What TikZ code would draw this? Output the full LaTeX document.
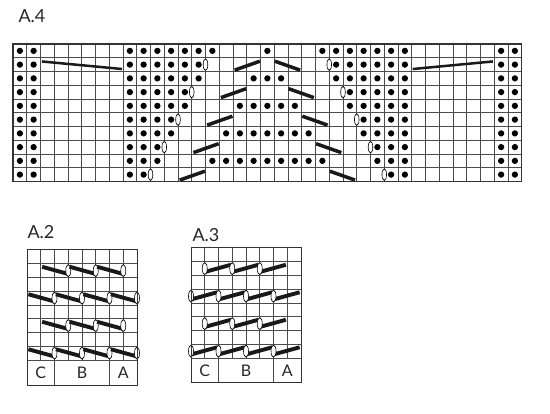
\documentclass[tikz,border=0pt]{standalone}
\usepackage{fontspec}
\setmainfont{Lato}
\begin{document}
\begin{tikzpicture}[x=1pt,y=-1pt,
  gridline/.style={draw=black!70, line width=0.7pt},
  border/.style={draw=black!80, line width=1.3pt},
  stitchdot/.style={fill=black},
  cross/.style={line width=3.5pt, draw=black!90},
  longcross/.style={line width=2.5pt, draw=black!90},
  crosskey/.style={line width=3.9pt, draw=black!90},
  oval/.style={draw=black, fill=white, line width=0.6pt},
  title/.style={font=\fontsize{18}{18}\selectfont, inner sep=0pt, text=black!85},
  keylabel/.style={font=\fontsize{16}{16}\selectfont, inner sep=0pt, text=black!85}]
\useasboundingbox (0,0) rectangle (550,414);

% ---------------- A.4 ----------------
\node[title] (t4) at (32,16.5) {A.4};
\begin{scope}[shift={(13,44)}, x=13.75pt, y=-13.75pt]
  \foreach \i in {1,...,36} \draw[gridline] (\i,0) -- (\i,10);
  \foreach \j in {1,...,9} \draw[gridline] (0,\j) -- (37,\j);
  \foreach \r/\cl in {
    1/{1,2,9,10,11,12,13,14,15,19,23,24,25,26,27,28,29,36,37},
    2/{1,2,9,10,11,12,13,14,24,25,26,27,28,29,36,37},
    3/{1,2,9,10,11,12,13,14,18,19,20,24,25,26,27,28,29,36,37},
    4/{1,2,9,10,11,12,13,25,26,27,28,29,36,37},
    5/{1,2,9,10,11,12,13,17,18,19,20,21,25,26,27,28,29,36,37},
    6/{1,2,9,10,11,12,26,27,28,29,36,37},
    7/{1,2,9,10,11,12,16,17,18,19,20,21,22,26,27,28,29,36,37},
    8/{1,2,9,10,11,27,28,29,36,37},
    9/{1,2,9,10,11,15,16,17,18,19,20,21,22,23,27,28,29,36,37},
    10/{1,2,9,10,28,29,36,37}}
  {
    \foreach \c in \cl { \fill[stitchdot] (\c-0.5,\r-0.5) circle (3.15pt); }
  }
  % long cables in row 2
  \draw[longcross] (2.1,1.27) -- (7.93,1.82);
  \draw[longcross] (29.07,1.82) -- (34.9,1.27);
  % short rising (left) and falling (right) strokes
  \foreach \r/\a in {2/16,4/15,6/14,8/13,10/12}
    \draw[cross] (\a+0.12,\r-0.1) -- (\a+1.96,\r-0.75);
  \foreach \r/\a in {2/19,4/20,6/21,8/22,10/23}
    \draw[cross] (\a+0.04,\r-0.75) -- (\a+1.88,\r-0.1);
  % ovals on column borders
  \foreach \b/\r in {14/2,23/2,13/4,24/4,12/6,25/6,11/8,26/8,10/10,27/10}
    \draw[oval] (\b,\r-0.5) ellipse [x radius=2.3pt, y radius=5.8pt];
  \draw[border] (0,0) rectangle (37,10);
\end{scope}

% ---------------- A.2 ----------------
\node[title] (t2) at (41,232) {A.2};
\begin{scope}[shift={(27,250)}, x=13.75pt, y=-13.75pt]
  \foreach \i in {1,...,7} \draw[gridline] (\i,0) -- (\i,8);
  \foreach \j in {1,...,8} \draw[gridline] (0,\j) -- (8,\j);
  \draw[gridline] (2,8) -- (2,9.85);
  \draw[gridline] (6,8) -- (6,9.85);
  \foreach \r in {2,6} \foreach \a in {1,3,5} {
    \draw[crosskey] (\a+0.1,\r-0.78) -- (\a+1.95,\r-0.27);
    \draw[oval] (\a+2,\r-0.5) ellipse [x radius=2.5pt, y radius=6pt];
  }
  \foreach \r in {4,8} \foreach \a in {0,2,4,6} {
    \draw[crosskey] (\a+0.1,\r-0.78) -- (\a+1.95,\r-0.27);
    \draw[oval] (\a+2,\r-0.5) ellipse [x radius=2.5pt, y radius=6pt];
  }
  \draw[border, line width=1pt] (0,0) rectangle (8,9.85);
  \node[keylabel] (c2) at (1,8.93) {C};
  \node[keylabel] (b2) at (4,8.93) {B};
  \node[keylabel] (a2) at (7,8.93) {A};
\end{scope}

% ---------------- A.3 ----------------
\node[title] (t3) at (206,235) {A.3};
\begin{scope}[shift={(191,248)}, x=13.75pt, y=-13.75pt]
  \foreach \i in {1,...,7} \draw[gridline] (\i,0) -- (\i,8);
  \foreach \j in {1,...,8} \draw[gridline] (0,\j) -- (8,\j);
  \draw[gridline] (2,8) -- (2,9.8);
  \draw[gridline] (6,8) -- (6,9.8);
  \foreach \r in {2,6} \foreach \a in {1,3,5} {
    \draw[crosskey] (\a+0.05,\r-0.27) -- (\a+1.9,\r-0.78);
    \draw[oval] (\a,\r-0.5) ellipse [x radius=2.5pt, y radius=6pt];
  }
  \foreach \r in {4,8} \foreach \a in {0,2,4,6} {
    \draw[crosskey] (\a+0.05,\r-0.27) -- (\a+1.9,\r-0.78);
    \draw[oval] (\a,\r-0.5) ellipse [x radius=2.5pt, y radius=6pt];
  }
  \draw[border, line width=1pt] (0,0) rectangle (8,9.8);
  \node[keylabel] (c3) at (1,8.9) {C};
  \node[keylabel] (b3) at (4,8.9) {B};
  \node[keylabel] (a3) at (7,8.9) {A};
\end{scope}
\end{tikzpicture}
\end{document}
